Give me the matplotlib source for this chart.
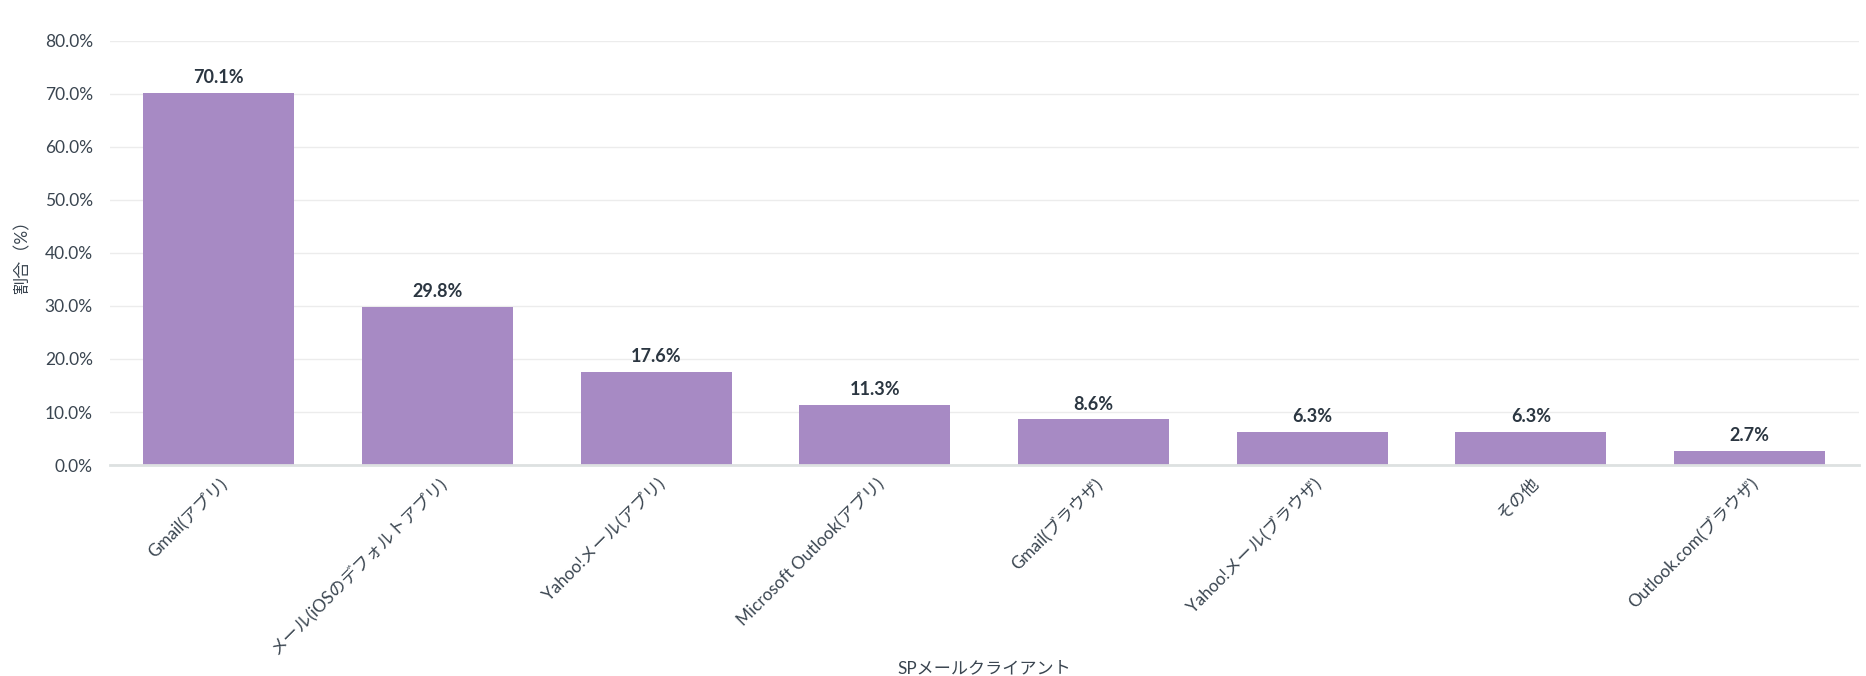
import matplotlib
matplotlib.use("Agg")
import matplotlib.pyplot as plt
from matplotlib.ticker import FuncFormatter

# data
clients = ["Gmail(アプリ)", "メール(iOSのデフォルトアプリ)", "Yahoo!メール(アプリ)",
           "Microsoft Outlook(アプリ)", "Gmail(ブラウザ)", "Yahoo!メール(ブラウザ)",
           "その他", "Outlook.com(ブラウザ)"]
share = [70.1, 29.8, 17.6, 11.3, 8.6, 6.3, 6.3, 2.7]
y_ticks = [0, 10, 20, 30, 40, 50, 60, 70, 80]

fonts = ["Lato", "Noto Sans CJK JP", "DejaVu Sans"]
plt.rcParams["font.family"] = fonts

bar_color = "#a78ac4"
text_dark = "#2b3641"
tick_color = "#3a4550"

fig = plt.figure(figsize=(18.66, 6.76), dpi=100)
ax = fig.add_axes([0.0587, 0.312, 0.9375, 0.628])

x = range(len(clients))
bars = ax.bar(x, share, width=0.69, color=bar_color, zorder=3)

for b, v in zip(bars, share):
    ax.annotate("%.1f%%" % v, (b.get_x() + b.get_width() / 2, v),
                xytext=(0, 5), textcoords="offset points",
                ha="center", va="bottom", fontsize=13, fontweight="bold",
                color=text_dark)

ax.set_xlim(-0.5, len(clients) - 0.5)
ax.set_ylim(0, 80)
ax.set_yticks(y_ticks)
ax.yaxis.set_major_formatter(FuncFormatter(lambda v, p: "%.1f%%" % v))
ax.set_xticks(list(x))
ax.set_xticklabels(clients, rotation=45, ha="right", va="top",
                   rotation_mode="anchor", fontsize=12.3, color=tick_color)
ax.tick_params(axis="y", length=0, pad=12, labelsize=12.5, labelcolor=tick_color)
ax.tick_params(axis="x", length=0, pad=7)

ax.grid(axis="y", color="#ececec", linewidth=1, zorder=0)
for s in ["top", "right", "left"]:
    ax.spines[s].set_visible(False)
ax.spines["bottom"].set_color("#dde1e1")
ax.spines["bottom"].set_linewidth(2)
ax.spines["bottom"].set_zorder(4)

ax.set_xlabel("SPメールクライアント", fontsize=12.3, color=tick_color)
ax.set_ylabel("割合（%）", fontsize=12.3, color=tick_color)
ax.xaxis.set_label_coords(0.5, -0.46)
ax.yaxis.set_label_coords(-0.045, 0.5)

fig.savefig("out.png", dpi=100, facecolor="white")
